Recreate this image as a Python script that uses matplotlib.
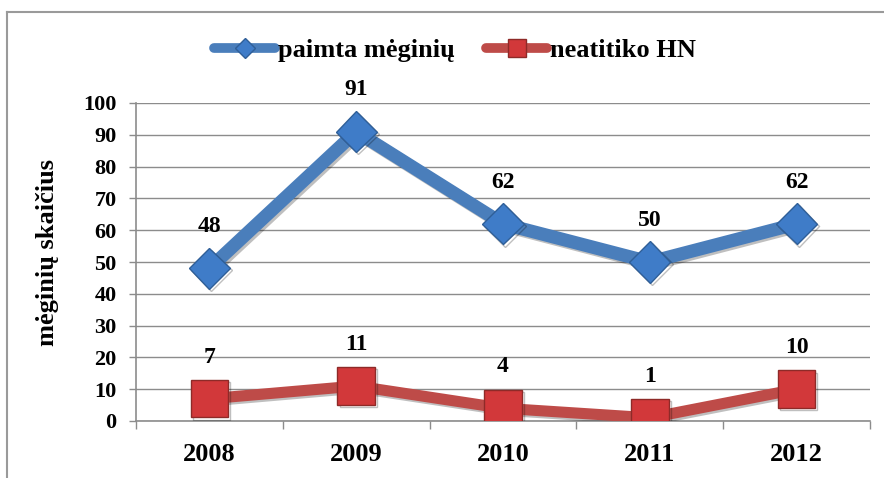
import matplotlib
matplotlib.use("Agg")
import matplotlib.pyplot as plt
import matplotlib.patheffects as pe
from matplotlib.lines import Line2D

# duomenys
metai = ["2008", "2009", "2010", "2011", "2012"]
paimta = [48, 91, 62, 50, 62]
neatitiko = [7, 11, 4, 1, 10]
y_ticks = [0, 10, 20, 30, 40, 50, 60, 70, 80, 90, 100]

MELYNA = "#4A7EBB"
MELYNA_ZYME = "#3F7CC8"
RAUDONA = "#BE4B48"
RAUDONA_ZYME = "#D2383A"
PILKA = "#8C8C8C"

plt.rcParams["font.family"] = ["Liberation Serif", "DejaVu Serif"]
plt.rcParams["font.weight"] = "bold"

W, H = 884, 478
fig = plt.figure(figsize=(W / 100, H / 100), dpi=100)

# rėmelis (nupjautas dešinėje ir apačioje)
fig.add_artist(Line2D([7 / W, 7 / W], [0, 1 - 12 / H], transform=fig.transFigure, color="#9A9A9A", lw=1.5))
fig.add_artist(Line2D([7 / W, 1], [1 - 12 / H, 1 - 12 / H], transform=fig.transFigure, color="#9A9A9A", lw=1.5))

ax = fig.add_axes([136 / W, 1 - 421 / H, (870 - 136) / W, (421 - 103) / H])
x = list(range(len(metai)))

seselis = [pe.SimpleLineShadow(offset=(1.5, -1.5), alpha=0.25), pe.Normal()]
ax.plot(x, paimta, color=MELYNA, lw=9.5, marker="D", ms=21,
        markerfacecolor=MELYNA_ZYME, markeredgecolor="#2F5F98", markeredgewidth=1,
        zorder=3, path_effects=seselis)
ax.plot(x, neatitiko, color=RAUDONA, lw=8, marker="s", ms=27,
        markerfacecolor=RAUDONA_ZYME, markeredgecolor="#8E2A28", markeredgewidth=1,
        zorder=3, path_effects=seselis)

for xi, v in zip(x, paimta):
    ax.annotate(str(v), (xi, v), xytext=(0, 30), textcoords="offset points",
                ha="center", va="center", fontsize=17, fontweight="bold")
for xi, v in zip(x, neatitiko):
    ax.annotate(str(v), (xi, v), xytext=(0, 30), textcoords="offset points",
                ha="center", va="center", fontsize=17, fontweight="bold")

ax.set_ylim(0, 100)
ax.set_xlim(-0.5, len(metai) - 0.5)
ax.set_yticks(y_ticks)
ax.set_yticklabels([str(t) for t in y_ticks])
ax.tick_params(axis="y", labelsize=16, length=5, width=1, color=PILKA, pad=9)

ax.set_xticks([i - 0.5 for i in range(len(metai) + 1)])
ax.set_xticklabels([])
ax.set_xticks(x, minor=True)
ax.set_xticklabels(metai, minor=True)
ax.tick_params(axis="x", which="major", length=6, width=1, color=PILKA)
ax.tick_params(axis="x", which="minor", length=0, labelsize=19, pad=16)

ax.grid(axis="y", color=PILKA, lw=1)
ax.set_axisbelow(True)
for s in ["top", "right"]:
    ax.spines[s].set_visible(False)
for s in ["left", "bottom"]:
    ax.spines[s].set_color(PILKA)
    ax.spines[s].set_linewidth(1.2)

fig.text(48 / W, 1 - 252 / H, "mėginių skaičius", rotation=90, ha="center", va="center",
         fontsize=19, fontweight="bold")

rankenos = [
    Line2D([], [], color=MELYNA, lw=7, solid_capstyle="round", marker="D", ms=10,
           markerfacecolor=MELYNA_ZYME, markeredgecolor="#2F5F98"),
    Line2D([], [], color=RAUDONA, lw=7, solid_capstyle="round", marker="s", ms=13,
           markerfacecolor=RAUDONA_ZYME, markeredgecolor="#8E2A28"),
]
fig.legend(rankenos, ["paimta mėginių", "neatitiko HN"], loc="center",
           bbox_to_anchor=(455 / W, 1 - 50 / H), ncol=2, frameon=False,
           prop={"size": 19, "weight": "bold"}, handlelength=2.3,
           handletextpad=0.1, columnspacing=1.2)

fig.savefig("out.png", dpi=100)
